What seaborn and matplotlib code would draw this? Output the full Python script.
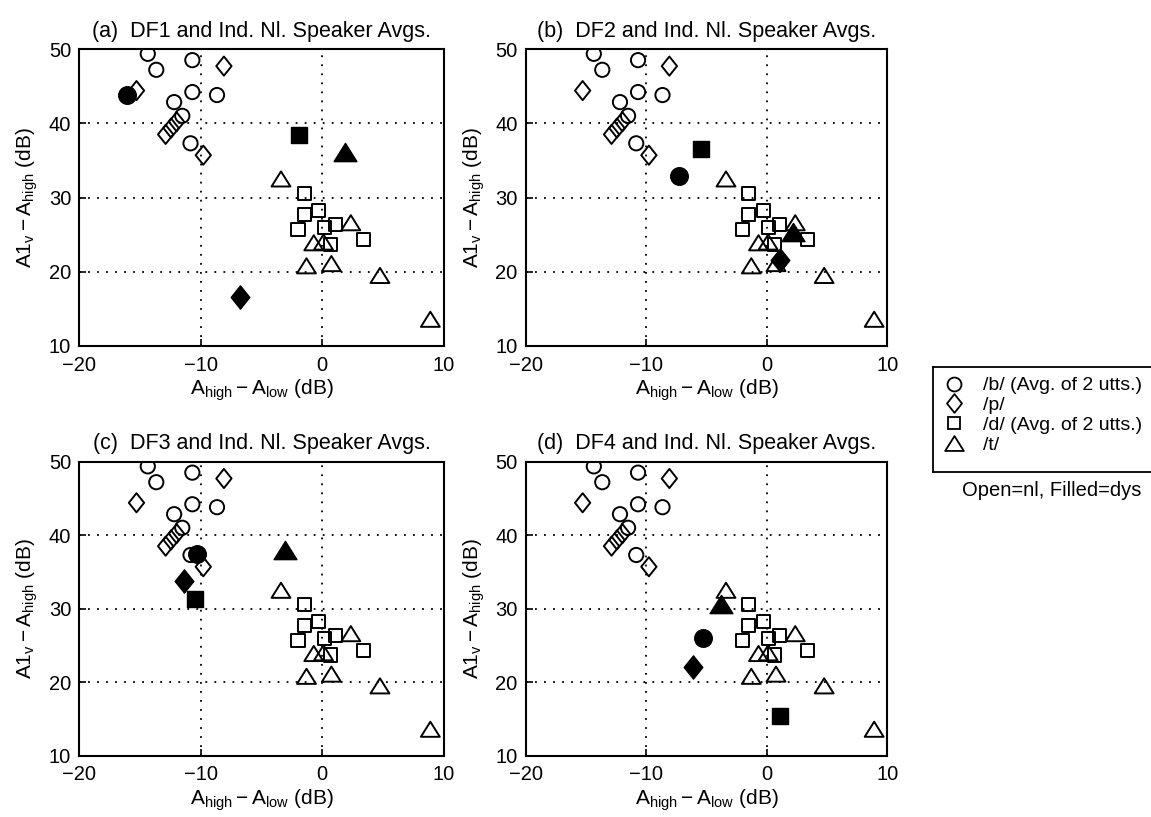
import matplotlib
matplotlib.use("Agg")
import matplotlib.pyplot as plt
import seaborn as sns
from matplotlib.path import Path
from matplotlib.lines import Line2D

# normal-speaker averages (same in every panel)
nl_b_x = [-14.37, -13.67, -10.7, -10.7, -8.67, -12.2, -11.53, -10.85]
nl_b_y = [49.35, 47.2, 48.5, 44.2, 43.8, 42.85, 41.0, 37.3]
nl_p_x = [-8.1, -15.3, -9.8, -12.9, -12.45, -12.0]
nl_p_y = [47.7, 44.4, 35.7, 38.5, 39.35, 40.2]
nl_d_x = [-1.5, -1.5, -0.3, -2.0, 0.15, 1.05, 0.65, 3.4]
nl_d_y = [30.6, 27.7, 28.3, 25.7, 25.9, 26.3, 23.7, 24.3]
nl_t_x = [-3.4, 2.35, -0.7, 0.1, -1.3, 0.75, 4.75, 8.9]
nl_t_y = [32.5, 26.6, 23.9, 24.0, 20.8, 21.1, 19.5, 13.6]

# dysarthric speakers DF1..DF4
speakers = ["DF1", "DF2", "DF3", "DF4"]
dys_b_x = [-16.1, -7.3, -10.3, -5.3]
dys_b_y = [43.8, 32.9, 37.4, 26.0]
dys_p_x = [-6.8, 1.1, -11.4, -6.1]
dys_p_y = [16.6, 21.6, 33.8, 22.0]
dys_d_x = [-1.9, -5.5, -10.5, 1.1]
dys_d_y = [38.4, 36.5, 31.3, 15.4]
dys_t_x = [1.9, 2.2, -3.1, -3.8]
dys_t_y = [36.1, 25.4, 38.0, 30.7]

panel_tags = ["(a)", "(b)", "(c)", "(d)"]
legend_labels = ["/b/ (Avg. of 2 utts.)", "/p/", "/d/ (Avg. of 2 utts.)", "/t/"]

diamond = Path([(0, 1), (0.8, 0), (0, -1), (-0.8, 0), (0, 1)],
               [Path.MOVETO, Path.LINETO, Path.LINETO, Path.LINETO, Path.CLOSEPOLY])
triangle = Path([(0, 0.8), (1, -0.8), (-1, -0.8), (0, 0.8)],
                [Path.MOVETO, Path.LINETO, Path.LINETO, Path.CLOSEPOLY])

sns.set_style("ticks")
plt.rcParams["font.family"] = ["Liberation Sans", "DejaVu Sans"]
plt.rcParams["mathtext.fontset"] = "custom"
plt.rcParams["mathtext.rm"] = "Liberation Sans"
plt.rcParams["mathtext.it"] = "Liberation Sans:italic"
plt.rcParams["axes.unicode_minus"] = True
plt.rcParams["text.color"] = "black"
plt.rcParams["axes.labelcolor"] = "black"

fig = plt.figure(figsize=(11.51, 8.17), dpi=100)
positions = [[0.069, 0.5765, 0.3165, 0.3635],
             [0.457, 0.5765, 0.3140, 0.3635],
             [0.069, 0.0750, 0.3165, 0.3600],
             [0.457, 0.0750, 0.3140, 0.3600]]

open_kw = dict(facecolor="none", edgecolor="black", linewidth=1.4, zorder=3)
fill_kw = dict(facecolor="black", edgecolor="black", linewidth=1.0, zorder=4)

for i, pos in enumerate(positions):
    ax = fig.add_axes(pos)
    sns.scatterplot(x=nl_b_x, y=nl_b_y, marker="o", s=105, ax=ax, **open_kw)
    sns.scatterplot(x=nl_p_x, y=nl_p_y, marker=diamond, s=190, ax=ax, **open_kw)
    sns.scatterplot(x=nl_d_x, y=nl_d_y, marker="s", s=88, ax=ax, **open_kw)
    sns.scatterplot(x=nl_t_x, y=nl_t_y, marker=triangle, s=185, ax=ax, **open_kw)

    sns.scatterplot(x=[dys_b_x[i]], y=[dys_b_y[i]], marker="o", s=160, ax=ax, **fill_kw)
    sns.scatterplot(x=[dys_p_x[i]], y=[dys_p_y[i]], marker=diamond, s=280, ax=ax, **fill_kw)
    sns.scatterplot(x=[dys_d_x[i]], y=[dys_d_y[i]], marker="s", s=120, ax=ax, **fill_kw)
    sns.scatterplot(x=[dys_t_x[i]], y=[dys_t_y[i]], marker=triangle, s=270, ax=ax, **fill_kw)

    ax.set_xlim(-20, 10)
    ax.set_ylim(10, 50)
    ax.set_xticks([-20, -10, 0, 10])
    ax.set_yticks([10, 20, 30, 40, 50])
    ax.grid(True, color="black", linestyle=(0, (1, 4)), linewidth=1.3)
    ax.tick_params(direction="in", length=5, width=1.2, labelsize=14.5, colors="black")
    ax.tick_params(axis="x", pad=7)
    ax.tick_params(axis="y", pad=6)
    for sp in ax.spines.values():
        sp.set_visible(True)
        sp.set_linewidth(1.5)
        sp.set_color("black")
    ax.set_title(f"{panel_tags[i]}  {speakers[i]} and Ind. Nl. Speaker Avgs.",
                 fontsize=15.5, pad=9)
    ax.set_xlabel(r"$\mathrm{A_{high} - A_{low}}$ (dB)", fontsize=15, labelpad=2)
    ax.set_ylabel(r"$\mathrm{A1_{v} - A_{high}}$ (dB)", fontsize=15, labelpad=6)

# legend box
lax = fig.add_axes([933 / 1151, 1 - 472 / 817, 0.25, 105 / 817])
lax.set_xticks([])
lax.set_yticks([])
for sp in lax.spines.values():
    sp.set_linewidth(1.3)
    sp.set_color("black")
handles = [
    Line2D([], [], linestyle="none", marker="o", markersize=10, mfc="none", mec="black", mew=1.3),
    Line2D([], [], linestyle="none", marker=diamond, markersize=13.5, mfc="none", mec="black", mew=1.3),
    Line2D([], [], linestyle="none", marker="s", markersize=9.2, mfc="none", mec="black", mew=1.3),
    Line2D([], [], linestyle="none", marker=triangle, markersize=13.4, mfc="none", mec="black", mew=1.3),
]
lax.legend(handles, legend_labels, loc="upper left", frameon=False, fontsize=14,
           handlelength=1.2, handletextpad=0.85, labelspacing=0.12,
           borderaxespad=0.0, borderpad=0.5)
fig.text(1052 / 1151, 1 - 490 / 817, "Open=nl, Filled=dys", ha="center", va="center",
         fontsize=14.5)

fig.savefig("out.png", dpi=100)
